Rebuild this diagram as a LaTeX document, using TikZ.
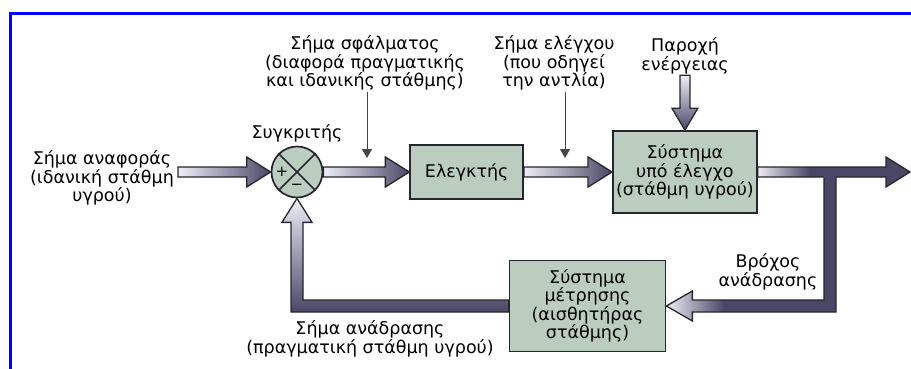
\documentclass[tikz,border=0pt]{standalone}
\usepackage{fontspec}
\setmainfont{DejaVu Sans}
\usetikzlibrary{positioning, calc, arrows.meta}
\usepackage{xcolor}

\definecolor{frameblue}{RGB}{0,0,245}
\definecolor{boxgreen}{RGB}{186,205,191}
\definecolor{arrdark}{RGB}{74,71,102}
\definecolor{arrlight}{RGB}{238,238,247}
\definecolor{edgegray}{RGB}{38,38,46}
\definecolor{pointgray}{RGB}{70,70,70}

\pgfdeclarehorizontalshading{quickfade}{100bp}{color(0bp)=(arrlight); color(25bp)=(arrlight); color(42bp)=(arrdark); color(100bp)=(arrdark)}

% fat horizontal arrow: #1 shading, #2 start, #3 tip
\newcommand{\fatright}[3]{%
  \shadedraw[fat, #1] let \p1=#2, \p2=#3 in
    (\x1,\y1+5pt) -- (\x2-24pt,\y1+5pt) -- (\x2-24pt,\y1+15pt) -- (\x2,\y1)
    -- (\x2-24pt,\y1-15pt) -- (\x2-24pt,\y1-5pt) -- (\x1,\y1-5pt) -- cycle;}

\begin{document}
\begin{tikzpicture} [x=1pt, y=-1pt, font=\fontsize{17.5}{18.5}\selectfont,
    box/.style={draw=edgegray, line width=1.7pt, fill=boxgreen, align=center, inner sep=2pt},
    summer/.style={circle, draw=edgegray, line width=1.7pt, fill=boxgreen, minimum size=51pt, inner sep=0pt},
    lbl/.style={align=center, inner sep=1pt},
    fat/.style={draw=edgegray, line width=1.3pt, line join=miter},
    pointer/.style={-{Triangle[length=9pt, width=10pt]}, draw=pointgray, fill=pointgray, line width=0.9pt}]
        \useasboundingbox (0,0) rectangle (911,368);
        \clip (0,0) rectangle (911,368);
        \draw[frameblue, line width=3.5pt] (10.5,380) -- (10.5,13.5) -- (930,13.5);

        % Nodes
        \node[summer] (comp) at (297,172) {};
        \node[box, right=86pt of comp, minimum width=113pt, minimum height=54pt] (ctrl) {Ελεγκτής};
        \node[box, right=88pt of ctrl, minimum width=144pt, minimum height=82pt] (sys) {Σύστημα\\υπό έλεγχο\\(στάθμη υγρού)};
        \node[box, minimum width=156pt, minimum height=91pt] (sens) at (587.5,306) {Σύστημα\\μέτρησης\\(αισθητήρας\\στάθμης)};
        \node[font=\fontsize{15}{15}\selectfont] (plus) at ($(comp.center)+(-15,0)$) {+};
        \node[font=\fontsize{15}{15}\selectfont] (minus) at ($(comp.center)+(0,15)$) {−};

        \node[lbl] (ref) at (102,178) {Σήμα αναφοράς\\(ιδανική στάθμη\\υγρού)};
        \node[lbl, above=2pt of comp] (cmplbl) {Συγκριτής};
        \node[lbl] (errlbl) at (365,63) {Σήμα σφάλματος\\(διαφορά πραγματικής\\και ιδανικής στάθμης)};
        \node[lbl] (ctllbl) at (554,63) {Σήμα ελέγχου\\(που οδηγεί\\την αντλία)};
        \node[lbl] (pwr) at (685,56) {Παροχή\\ενέργειας};
        \node[lbl] (looplbl) at (768,272) {Βρόχος\\ανάδρασης};
        \node[lbl] (fblbl) at (370,339) {Σήμα ανάδρασης\\(πραγματική στάθμη υγρού)};

        \coordinate (tap) at (830,172);
        \coordinate (out) at (910,172);
        \coordinate (errtip) at (367,158);
        \coordinate (ctltip) at (565,158);

        % Cross of the comparator
        \draw[edgegray, line width=1.6pt] (comp.north west) -- (comp.south east) (comp.north east) -- (comp.south west);

        % Arrows
        \fatright{left color=arrlight, right color=arrdark}{([xshift=3pt]ref.east |- comp.west)}{(comp.west)}
        \fatright{left color=arrlight, right color=arrdark}{(comp.east)}{(ctrl.west)}
        \fatright{left color=arrlight, right color=arrdark}{(ctrl.east)}{(sys.west)}
        \fatright{shading=quickfade}{(sys.east)}{(out)}
        \shadedraw[fat, top color=arrlight, bottom color=arrdark] let \p1=(pwr.south), \p2=(sys.north) in
            (\x2-5pt,\y1) -- (\x2-5pt,\y2+22pt) -- (\x2-13pt,\y2+22pt) -- (\x2,\y2)
            -- (\x2+13pt,\y2+22pt) -- (\x2+5pt,\y2+22pt) -- (\x2+5pt,\y1) -- cycle;
        % feedback branch, filled first and outlined open at the output arrow
        \shade[shading=quickfade] let \p1=(tap), \p2=(sens.east) in
            (\x1-6pt,\y1) -- (\x1-6pt,\y2+6pt) -- (\x2+26pt,\y2+6pt) -- (\x2+26pt,\y2+15pt) -- (\x2,\y2)
            -- (\x2+26pt,\y2-15pt) -- (\x2+26pt,\y2-6pt) -- (\x1+6pt,\y2-6pt) -- (\x1+6pt,\y1) -- cycle;
        \draw[fat] let \p1=(tap), \p2=(sens.east) in
            (\x1-6pt,\y1-5.6pt) -- (\x1-6pt,\y2+6pt) -- (\x2+26pt,\y2+6pt) -- (\x2+26pt,\y2+15pt) -- (\x2,\y2)
            -- (\x2+26pt,\y2-15pt) -- (\x2+26pt,\y2-6pt) -- (\x1+6pt,\y2-6pt) -- (\x1+6pt,\y1-5.6pt);
        \shadedraw[fat, top color=arrlight, bottom color=arrdark] let \p1=(sens.west), \p2=(comp.south) in
            (\x1,\y1+6pt) -- (\x2+6pt,\y1+6pt) -- (\x2+6pt,\y2-24pt) -- (\x2+15pt,\y2-24pt) -- (\x2,\y2)
            -- (\x2-15pt,\y2-24pt) -- (\x2-6pt,\y2-24pt) -- (\x2-6pt,\y1-6pt) -- (\x1,\y1-6pt) -- cycle;
        \draw[pointer] (errlbl.south -| errtip) -- (errtip);
        \draw[pointer] (ctllbl.south -| ctltip) -- (ctltip);
    \end{tikzpicture}
\end{document}
